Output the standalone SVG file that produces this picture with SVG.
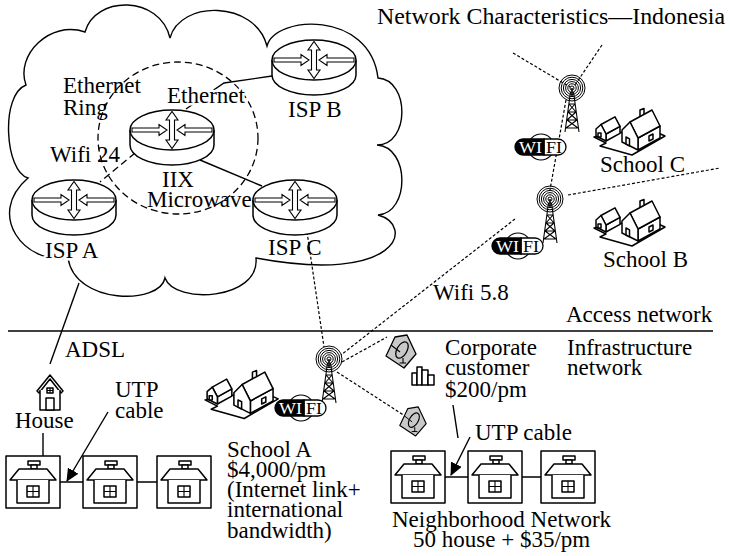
<svg xmlns="http://www.w3.org/2000/svg" xmlns:xlink="http://www.w3.org/1999/xlink" width="730" height="556" viewBox="0 0 730 556">
  <style>
    text { font-family: "Liberation Serif", "Times New Roman", serif; font-size: 23px; fill: #000; }
    .halo { stroke: #fff; stroke-width: 5; stroke-linejoin: round; paint-order: stroke; }
    .ln { stroke: #000; stroke-width: 1.4; fill: none; }
    .dot { stroke: #000; stroke-width: 1.2; fill: none; stroke-dasharray: 3 2; }
    .dash { stroke: #000; stroke-width: 1.3; fill: none; stroke-dasharray: 7 4; }
    .ol { stroke: #000; stroke-width: 1.5; fill: #fff; stroke-linejoin: round; }
    .arr { stroke: #000; stroke-width: 1.1; fill: #fff; stroke-linejoin: miter; }
    .thin { stroke: #000; stroke-width: 1.1; fill: none; }
    .dish { stroke: #000; stroke-width: 1.3; fill: #c9c9c9; stroke-linejoin: round; }
  </style>
  <defs>
    <marker id="head" markerUnits="userSpaceOnUse" markerWidth="13" markerHeight="12" refX="12" refY="6" orient="auto">
      <path d="M0,0 L13,6 L0,12 Z" fill="#000"/>
    </marker>
    <!-- router: cylinder with four arrows on its top face -->
    <g id="router">
      <path class="ol" d="M-42,0 V15 A42,20 0 0 0 42,15 V0"/>
      <ellipse class="ol" rx="42" ry="20"/>
      <path class="arr" d="M-40,-2 H-13 V-5.5 L-5,0 L-13,5.5 V2 H-40 Z"/>
      <path class="arr" d="M40,-2 H13 V-5.5 L5,0 L13,5.5 V2 H40 Z"/>
      <path class="arr" d="M-2.5,-10 H-6 L0,-18.5 L6,-10 H2.5 V10 H6 L0,18.5 L-6,10 H-2.5 Z"/>
    </g>
    <!-- house drawn inside a square frame -->
    <g id="homebox">
      <rect class="ol" x="0" y="0" width="54" height="52"/>
      <rect class="ol" x="22" y="5" width="12" height="4"/>
      <rect class="ol" x="25" y="9" width="6" height="4"/>
      <path class="ol" d="M13,13 H41 L50,24 H4 Z"/>
      <path class="ol" d="M11,24 V47 H43 V24"/>
      <rect class="ol" x="21" y="30" width="12" height="11"/>
      <path class="thin" d="M27,30 V41 M21,35.5 H33"/>
    </g>
    <!-- isometric school building on its plot -->
    <g id="school">
      <path class="ol" d="M2,31 L14,37 L8,40 L40,49 L73,30 L55,22 Z"/>
      <path class="ol" d="M14,35 L28,27.3 L28,20.3 L14,28 Z"/>
      <path class="ol" d="M9,18.5 L23,10.8 L28,20.3 L14,28 Z"/>
      <path class="ol" d="M4,30 V23 L9,18.5 L14,28 V35 Z"/>
      <rect class="ol" x="6" y="27" width="3" height="4"/>
      <path class="ol" d="M46,44 L68,32 L68,20 L46,32 Z"/>
      <path class="ol" d="M48,13 V4 L52,2.5 V11 Z"/>
      <path class="ol" d="M38,16 L60,4 L68,20 L46,32 Z"/>
      <path class="ol" d="M30,36 V24 L38,16 L46,32 V44 Z"/>
      <path class="ol" d="M34,38 V31 L37.5,32.8 V39.8 Z"/>
      <path class="ol" d="M57,35 V30 L61,28 V33 Z"/>
    </g>
    <!-- radio mast with concentric signal rings -->
    <g id="mast">
      <path class="thin" d="M-1.5,4 L-7,44 M1.5,4 L7,44 M-3,16 H3 M-4,24 H4 M-5,32 H5 M-6,40 H6 M-3,16 L4,24 M3,16 L-4,24 M-4,24 L5,32 M4,24 L-5,32 M-5,32 L6,40 M5,32 L-6,40"/>
      <g fill="none" stroke="#000" stroke-width="1">
        <circle r="2"/><circle r="4.2"/><circle r="6.4"/><circle r="8.6"/><circle r="10.8"/><circle r="13"/>
      </g>
      <path d="M0,0 V8" stroke="#000" stroke-width="1.5"/>
    </g>
    <!-- WI-FI badge -->
    <g id="wifi">
      <circle cx="1" cy="0" r="13" fill="none" stroke="#000" stroke-width="1.2"/>
      <path d="M4,-8 H18 A8,8 0 0 1 18,8 H4 Z" fill="#fff" stroke="#000" stroke-width="1.3"/>
      <path d="M4,-8 H-17 A8,8 0 0 0 -17,8 H4 Z" fill="#000" stroke="#000" stroke-width="1.3"/>
      <text x="-21" y="6" textLength="23" lengthAdjust="spacingAndGlyphs" style="font-size:17px;fill:#fff">WI</text>
      <text x="6" y="6" textLength="16" lengthAdjust="spacingAndGlyphs" style="font-size:17px">FI</text>
    </g>
    <!-- satellite dish badge -->
    <g id="dish">
      <path class="dish" d="M-15,5 L-6,-14 L6,-16 L15,3 L3,17 Z"/>
      <ellipse cx="1" cy="-1" rx="9" ry="5" transform="rotate(-60 1 -1)" fill="none" stroke="#000" stroke-width="1.3"/>
      <path class="thin" d="M-1,1 L-10,-6 M2,7 V12 M-1.5,12 H5"/>
    </g>
  </defs>

  <rect width="730" height="556" fill="#fff"/>

  <!-- backbone cloud -->
  <path id="cloud" class="ln" d="M68,258 C25,265 -15,215 28,178 C5,172 0,95 26,85 C15,55 50,20 85,32 C95,-5 160,-5 170,38 C180,0 255,0 267,46 C275,15 370,10 378,78 C410,80 410,145 377,145 C410,147 410,213 378,215 C415,225 400,285 256,258 C260,300 175,305 165,278 C160,305 75,305 68,258 Z" fill="#fff"/>
  <!-- ethernet ring -->
  <ellipse cx="178" cy="138" rx="80" ry="76" class="dash"/>

  <g id="connectors">
    <path class="ln" d="M8,331 H713"/>
    <path class="ln" d="M186,109 L224,83 L272,76"/>
    <path class="ln" d="M200,160 L262,186"/>
    <path class="dash" d="M135,153 L100,182"/>
    <path class="ln" d="M79,283 L50,364"/>
    <path class="ln" d="M43,433 V456"/>
    <path class="ln" d="M60,482 H83 M137,482 H157"/>
    <path class="ln" d="M108,412 L67,481" marker-end="url(#head)"/>
    <path class="ln" d="M445,477 H468 M522,477 H541"/>
    <path class="ln" d="M470,437 L451,475" marker-end="url(#head)"/>
    <path class="ln" d="M453,405 L458,438"/>
    <path class="dot" d="M513,53 L570,87"/>
    <path class="dot" d="M602,45 L575,85"/>
    <path class="dot" d="M566,100 L550,190"/>
    <path class="dot" d="M568,195 L720,168"/>
    <path class="dot" d="M515,219 L341,355"/>
    <path class="dot" d="M342,362 L387,337"/>
    <path class="dot" d="M337,372 L405,416"/>
    <path class="dot" d="M307,232 L324,347"/>
  </g>

  <g id="isp-a"><use href="#router" x="74" y="200"/></g>
  <g id="iix"><use href="#router" x="172" y="130"/></g>
  <g id="isp-b"><use href="#router" x="314" y="60"/></g>
  <g id="isp-c"><use href="#router" x="295" y="200"/></g>

  <g id="tower-top"><use href="#mast" x="572" y="88"/></g>
  <g id="tower-mid"><use href="#mast" x="550" y="199"/></g>
  <g id="tower-school-a"><use href="#mast" x="329" y="359"/></g>

  <g id="school-c"><use href="#school" transform="translate(592,106)"/></g>
  <g id="school-b"><use href="#school" transform="translate(592,197)"/></g>
  <g id="school-a"><use href="#school" transform="translate(203,368) scale(1.03)"/></g>

  <g id="wifi-top"><use href="#wifi" x="540" y="147"/></g>
  <g id="wifi-mid"><use href="#wifi" x="517" y="246"/></g>
  <g id="wifi-school-a"><use href="#wifi" x="300" y="408"/></g>

  <g id="dish-corporate"><use href="#dish" x="401" y="351"/></g>
  <g id="dish-neighborhood"><use href="#dish" transform="translate(413,421) scale(0.88)"/></g>

  <g id="corporate-building" class="ol">
    <rect x="412" y="373" width="5" height="12"/>
    <rect x="417" y="367" width="5" height="18"/>
    <rect x="422" y="370" width="6" height="15"/>
    <rect x="428" y="375" width="6" height="10"/>
  </g>

  <g id="house">
    <path class="ol" d="M37,391 L50,375 L63,391 L61,393 L50,379 L39,393 Z"/>
    <path class="ol" d="M40,390 V410 H60 V390"/>
    <rect class="ol" x="46" y="398" width="8" height="12"/>
    <rect class="ol" x="47" y="388" width="6" height="5"/>
    <path class="thin" d="M50,388 V393 M47,390.5 H53"/>
  </g>

  <g id="homes-school">
    <use href="#homebox" x="6" y="456"/>
    <use href="#homebox" x="83" y="456"/>
    <use href="#homebox" x="157" y="456"/>
  </g>
  <g id="homes-neighborhood">
    <use href="#homebox" x="391" y="451"/>
    <use href="#homebox" x="468" y="451"/>
    <use href="#homebox" x="541" y="451"/>
  </g>

  <g id="labels">
    <text x="377" y="24" textLength="348" lengthAdjust="spacingAndGlyphs">Network Characteristics—Indonesia</text>
    <text x="63" y="93">Ethernet</text>
    <text x="63" y="115">Ring</text>
    <text class="halo" x="167" y="103">Ethernet</text>
    <text x="50" y="162">Wifi 24</text>
    <text x="162" y="187">IIX</text>
    <text x="147" y="207">Microwave</text>
    <text class="halo" x="45" y="258">ISP A</text>
    <text x="268" y="255">ISP C</text>
    <text x="288" y="117">ISP B</text>
    <text x="600" y="172">School C</text>
    <text x="603" y="267">School B</text>
    <text x="433" y="300">Wifi 5.8</text>
    <text x="566" y="322">Access network</text>
    <text x="65" y="357">ADSL</text>
    <text x="445" y="355">Corporate</text>
    <text x="445" y="375">customer</text>
    <text x="445" y="397">$200/pm</text>
    <text x="567" y="355">Infrastructure</text>
    <text x="567" y="375">network</text>
    <text x="115" y="397">UTP</text>
    <text x="115" y="418">cable</text>
    <text x="15" y="428">House</text>
    <text x="475" y="440">UTP cable</text>
    <text x="227" y="457">School A</text>
    <text x="227" y="477">$4,000/pm</text>
    <text x="227" y="497">(Internet link+</text>
    <text x="227" y="517">international</text>
    <text x="227" y="538">bandwidth)</text>
    <text x="392" y="527">Neighborhood Network</text>
    <text x="413" y="547">50 house + $35/pm</text>
  </g>
</svg>
